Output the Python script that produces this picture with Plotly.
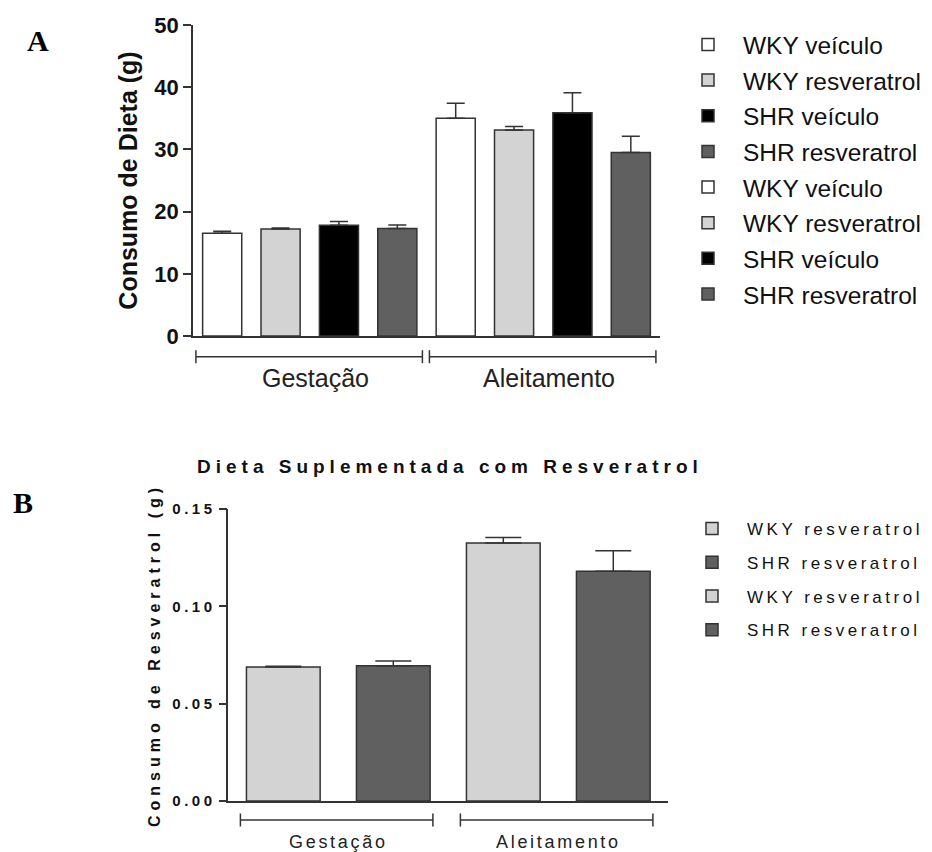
import plotly.graph_objects as go

# ---------------- data ----------------
groups = ["Gestação", "Aleitamento"]
series_A = ["WKY veículo", "WKY resveratrol", "SHR veículo", "SHR resveratrol"]
colors_A = ["#ffffff", "#d3d3d3", "#000000", "#606060"]
A_mean_gest = [16.5, 17.2, 17.8, 17.3]
A_sem_gest = [0.35, 0.15, 0.6, 0.55]
A_mean_alei = [35.0, 33.1, 35.9, 29.5]
A_sem_alei = [2.4, 0.6, 3.2, 2.6]
A_ticks = [0, 10, 20, 30, 40, 50]

series_B = ["WKY resveratrol", "SHR resveratrol"]
colors_B = ["#d3d3d3", "#606060"]
B_mean_gest = [0.0688, 0.0695]
B_sem_gest = [0.0004, 0.0024]
B_mean_alei = [0.1325, 0.118]
B_sem_alei = [0.0028, 0.0106]
B_ticks = [0.00, 0.05, 0.10, 0.15]
title_B = "Dieta Suplementada com Resveratrol"
ytitle_A = "Consumo de Dieta (g)"
ytitle_B = "Consumo de Resveratrol (g)"

OFF = 8  # page body margin
W, H = 932 - OFF, 852 - OFF
FONT = "Liberation Sans, Arial, sans-serif"
EDGE = "#333333"
TXT = "#111111"


def px_x(p):
    return (p - OFF) / W


def px_y(p):
    return (H - (p - OFF)) / H


def spaced(text, sp):
    return f'<span style="letter-spacing:{sp}px">{text}</span>'


fig = go.Figure()

# ---------------- panel A ----------------
A_means = [A_mean_gest, A_mean_alei]
A_sems = [A_sem_gest, A_sem_alei]
idx = 0
A_spans = []
for g, grp in enumerate(groups):
    start = idx
    for s, name in enumerate(series_A):
        fig.add_trace(go.Bar(
            x=[idx], y=[A_means[g][s]],
            width=0.67,
            name=name,
            legendgroup=f"A{idx}",
            legend="legend",
            marker=dict(color=colors_A[s], line=dict(color=EDGE, width=1.5)),
            error_y=dict(type="data", array=[A_sems[g][s]], arrayminus=[0],
                         symmetric=False, color=EDGE, thickness=1.5, width=9),
            xaxis="x", yaxis="y",
        ))
        idx += 1
    A_spans.append((start, idx - 1))

# ---------------- panel B ----------------
B_means = [B_mean_gest, B_mean_alei]
B_sems = [B_sem_gest, B_sem_alei]
idx = 0
B_spans = []
for g, grp in enumerate(groups):
    start = idx
    for s, name in enumerate(series_B):
        fig.add_trace(go.Bar(
            x=[idx], y=[B_means[g][s]],
            width=0.67,
            name=spaced(name, 3.5),
            legendgroup=f"B{idx}",
            legend="legend2",
            marker=dict(color=colors_B[s], line=dict(color=EDGE, width=1.5)),
            error_y=dict(type="data", array=[B_sems[g][s]], arrayminus=[0],
                         symmetric=False, color=EDGE, thickness=1.5, width=18),
            xaxis="x2", yaxis="y2",
        ))
        idx += 1
    B_spans.append((start, idx - 1))

shapes = []
annotations = []

# brackets + group labels A
yA = px_y(356.7)
tA = 6.5 / H
for (i0, i1), grp in zip(A_spans, groups):
    x0, x1 = i0 - 0.45, i1 + 0.43
    shapes.append(dict(type="line", xref="x", yref="paper", x0=x0, x1=x1, y0=yA, y1=yA,
                       line=dict(color=EDGE, width=1.5)))
    for xe in (x0, x1):
        shapes.append(dict(type="line", xref="x", yref="paper", x0=xe, x1=xe,
                           y0=yA - tA, y1=yA + tA, line=dict(color=EDGE, width=1.5)))
    annotations.append(dict(text=grp, xref="x", yref="paper", x=(x0 + x1) / 2 + 0.1,
                            y=px_y(378), showarrow=False, xanchor="center", yanchor="middle",
                            font=dict(family=FONT, size=25, color="#222")))

# brackets + group labels B
yB = px_y(820)
for (i0, i1), grp in zip(B_spans, groups):
    x0, x1 = i0 - 0.39, i1 + 0.36
    shapes.append(dict(type="line", xref="x2", yref="paper", x0=x0, x1=x1, y0=yB, y1=yB,
                       line=dict(color=EDGE, width=1.5)))
    for xe in (x0, x1):
        shapes.append(dict(type="line", xref="x2", yref="paper", x0=xe, x1=xe,
                           y0=yB - tA, y1=yB + tA, line=dict(color=EDGE, width=1.5)))
    annotations.append(dict(text=spaced(grp, 2.7), xref="x2", yref="paper", x=(i0 + i1) / 2,
                            y=px_y(842), showarrow=False, xanchor="center", yanchor="middle",
                            font=dict(family=FONT, size=18, color="#222")))

# title B and panel letters
annotations.append(dict(text="<b>" + spaced(title_B, 5) + "</b>", xref="paper", yref="paper",
                        x=px_x(450), y=px_y(467), showarrow=False, xanchor="center",
                        yanchor="middle", font=dict(family=FONT, size=19, color=TXT)))
annotations.append(dict(text="<b>A</b>", xref="paper", yref="paper", x=px_x(38), y=px_y(41),
                        showarrow=False, xanchor="center", yanchor="middle",
                        font=dict(family="Liberation Serif, Times New Roman, serif", size=30, color="#000")))
annotations.append(dict(text="<b>B</b>", xref="paper", yref="paper", x=px_x(23), y=px_y(502),
                        showarrow=False, xanchor="center", yanchor="middle",
                        font=dict(family="Liberation Serif, Times New Roman, serif", size=30, color="#000")))

axis_common = dict(showline=True, linecolor=EDGE, linewidth=1.5, showgrid=False, zeroline=False)

fig.update_layout(
    width=W, height=H,
    margin=dict(l=0, r=0, t=0, b=0, autoexpand=False),
    paper_bgcolor="white", plot_bgcolor="white",
    barmode="overlay",
    font=dict(family=FONT, color=TXT),
    xaxis=dict(domain=[px_x(193), px_x(660)], range=[-0.5, 7.5], anchor="y",
               showticklabels=False, ticks="", **axis_common),
    yaxis=dict(domain=[px_y(336), px_y(25)], range=[0, 50], anchor="x",
               tickvals=A_ticks, ticks="outside", ticklen=8, tickwidth=1.5, tickcolor=EDGE,
               tickfont=dict(family=FONT, size=22, color=TXT, weight="bold"),
               title=dict(text=ytitle_A, standoff=10,
                          font=dict(family=FONT, size=25, color=TXT, weight="bold")),
               **axis_common),
    xaxis2=dict(domain=[px_x(228.3), px_x(668.3)], range=[-0.5, 3.5], anchor="y2",
                showticklabels=False, ticks="", **axis_common),
    yaxis2=dict(domain=[px_y(801), px_y(509)], range=[0, 0.15], anchor="x2",
                tickvals=B_ticks, ticktext=[spaced(f"{v:.2f}", 3.5) for v in B_ticks],
                ticks="outside", ticklen=8, tickwidth=1.5, tickcolor=EDGE,
                tickfont=dict(family=FONT, size=15, color=TXT, weight="bold"),
                title=dict(text=spaced(ytitle_B, 5), standoff=8,
                           font=dict(family=FONT, size=16, color=TXT, weight="bold")),
                **axis_common),
    legend=dict(x=px_x(673), y=px_y(22), xanchor="left", yanchor="top",
                itemwidth=60, traceorder="grouped", tracegroupgap=0.8,
                font=dict(family=FONT, size=24.5, color=TXT), bgcolor="rgba(0,0,0,0)"),
    legend2=dict(x=px_x(677), y=px_y(511), xanchor="left", yanchor="top",
                 itemwidth=60, traceorder="grouped", tracegroupgap=8.6,
                 font=dict(family=FONT, size=17, color=TXT), bgcolor="rgba(0,0,0,0)"),
    shapes=shapes,
    annotations=annotations,
    showlegend=True,
)

fig.write_html("out.html")
